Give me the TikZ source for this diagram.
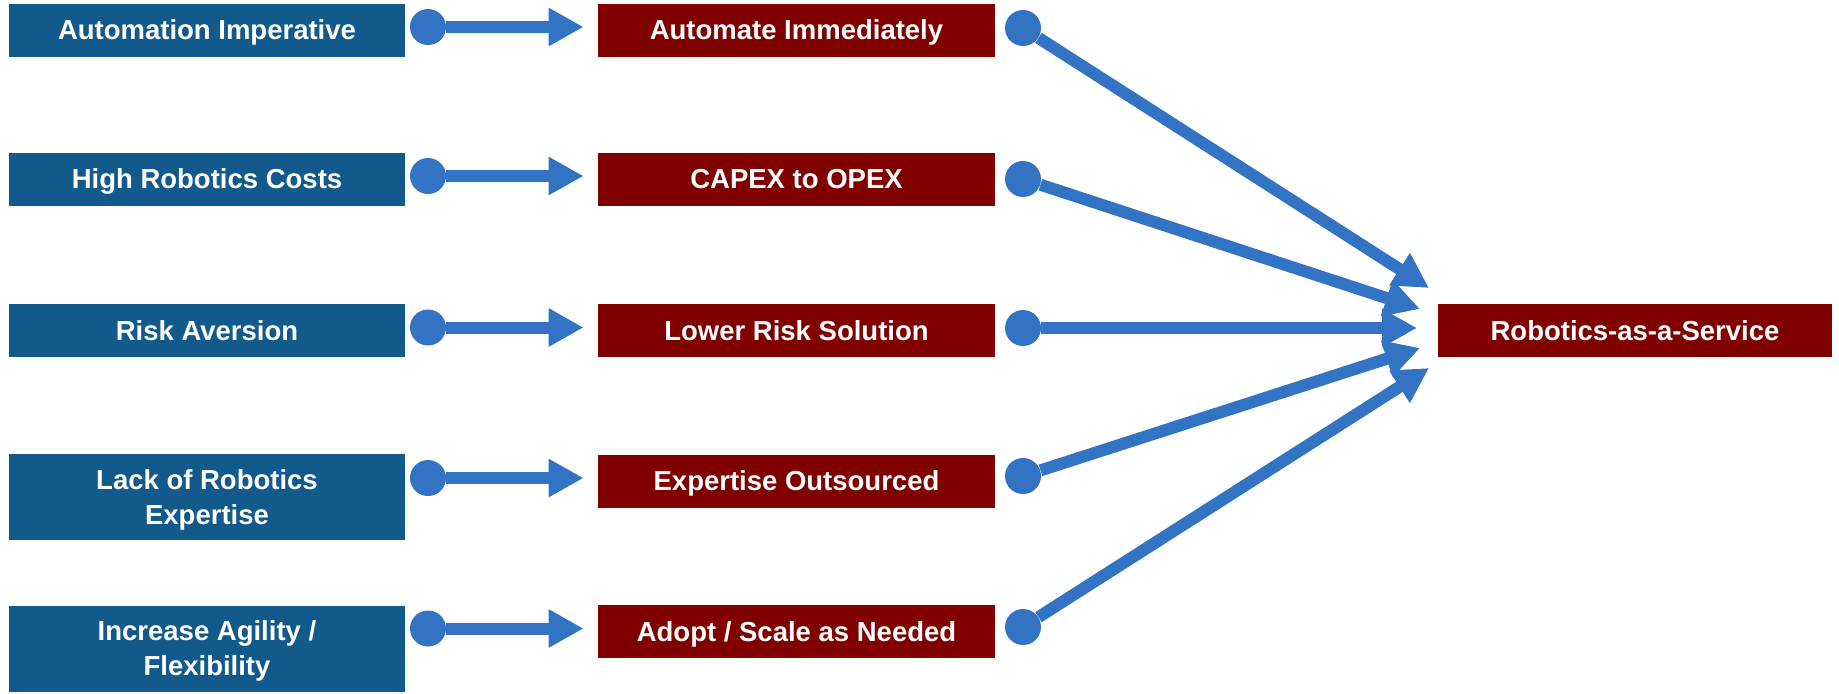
\documentclass[tikz,border=0pt]{standalone}
\usepackage{fontspec}
\setmainfont{Liberation Sans}
\usetikzlibrary{arrows.meta}
\definecolor{boxblue}{HTML}{12598C}
\definecolor{boxred}{HTML}{800000}
\definecolor{arrowblue}{HTML}{3373C4}
\newcommand\mystrut{\rule[-0.212em]{0pt}{1.117em}}
\begin{document}
\begin{tikzpicture}[x=0.5pt,y=-0.5pt,
  txt/.style={text=white,font=\fontsize{13.75pt}{17.5pt}\selectfont\bfseries,inner sep=0pt,align=center},
  lbox/.style={txt,fill=boxblue,minimum width=198pt,minimum height=26.5pt},
  tallbox/.style={lbox,minimum height=43pt},
  rbox/.style={txt,fill=boxred,minimum width=198.5pt,minimum height=26.5pt},
  dot/.style={circle,fill=arrowblue,minimum size=18pt,inner sep=0pt},
  link/.style={draw=arrowblue,line width=6pt,-{Triangle[length=17.5pt,width=18pt]}}]
\useasboundingbox (0,0) rectangle (1839,693);
% left boxes
\node[lbox] (b1) at (207,30) {\mystrut Automation Imperative};
\node[lbox] (b2) at (207,179.25) {\mystrut High Robotics Costs};
\node[lbox] (b3) at (207,330.5) {\mystrut Risk Aversion};
\node[tallbox] (b4) at (207,497) {\mystrut Lack of Robotics\\\mystrut Expertise};
\node[tallbox] (b5) at (207,648.75) {\mystrut Increase Agility /\\\mystrut Flexibility};
% middle boxes
\node[rbox] (m1) at (796.5,30) {\mystrut Automate Immediately};
\node[rbox] (m2) at (796.5,179) {\mystrut CAPEX to OPEX};
\node[rbox] (m3) at (796.5,330.5) {\mystrut Lower Risk Solution};
\node[rbox] (m4) at (796.5,481) {\mystrut Expertise Outsourced};
\node[rbox] (m5) at (796.5,631.5) {\mystrut Adopt / Scale as Needed};
% right box
\node[rbox,minimum width=197pt] (R) at (1635,330.5) {\mystrut Robotics-as-a-Service};
% left dots
\node[dot] (c1) at (428,27) {};
\node[dot] (c2) at (428,176) {};
\node[dot] (c3) at (428,327.5) {};
\node[dot] (c4) at (428,478) {};
\node[dot] (c5) at (428,628.5) {};
% right dots
\node[dot] (r1) at (1023,28) {};
\node[dot] (r2) at (1023,179) {};
\node[dot] (r3) at (1023,328) {};
\node[dot] (r4) at (1023,476) {};
\node[dot] (r5) at (1023,627) {};
% arrow tips near target
\coordinate (t1) at (1429,288);
\coordinate (t2) at (1420,309);
\coordinate (t3) at (1417,328);
\coordinate (t4) at (1420,348);
\coordinate (t5) at (1429,368);
% left connectors
\foreach \i in {1,...,5}{
  \draw[link,shorten >=7pt] (c\i) -- (c\i -| m\i.west);
}
% right connectors
\foreach \i in {1,...,5}{
  \draw[link] (r\i) -- (t\i);
}
\end{tikzpicture}
\end{document}
